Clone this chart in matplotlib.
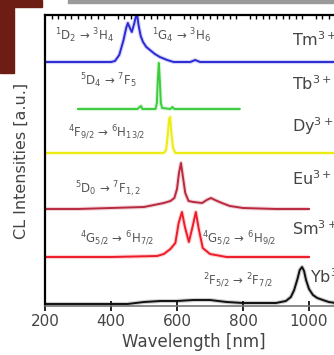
"""Stacked cathodoluminescence spectra of rare-earth doped samples"""
import matplotlib
matplotlib.use('Agg')
import matplotlib.pyplot as plt
from matplotlib.patches import Rectangle
from matplotlib.ticker import MultipleLocator

# Spectra: wavelength [nm] and intensity [a.u.] above each trace's baseline
tm_wl = [200, 400, 412, 425, 438, 446, 451, 456, 463, 470, 475, 479, 484, 490,
         497, 507, 518, 533, 548, 570, 590, 640, 655, 670, 700, 1100]
tm_int = [0, 0, 1, 7, 22, 34, 39, 35, 30, 38, 45, 47, 36, 26,
          20, 15, 12, 8, 5, 2, 0, 0, 2, 0, 0, 0]

tb_wl = [300, 480, 487, 491, 495, 535, 539, 542, 545, 548, 551, 555, 580, 586, 592, 620, 790]
tb_int = [0, 0, 2, 3, 0, 0, 6, 30, 46, 28, 6, 1, 0, 2, 0, 0, 0]

dy_wl = [200, 500, 560, 567, 572, 576, 579, 583, 588, 595, 1100]
dy_int = [0, 0, 0, 3, 18, 34, 36, 20, 5, 0, 0]

eu_wl = [200, 300, 400, 500, 560, 580, 592, 600, 606, 612, 618, 625, 635, 650,
         676, 690, 703, 715, 736, 760, 800, 900, 1000]
eu_int = [0, 0, 1, 2, 6, 8, 11, 20, 36, 46, 32, 16, 8, 7,
          6, 9, 11, 9, 6, 3, 1, 0, 0]

sm_wl = [200, 400, 540, 560, 580, 595, 605, 615, 624, 636, 647, 657, 666, 678, 700, 750, 1000]
sm_int = [0, 0, 1, 3, 8, 14, 34, 45, 30, 15, 30, 45, 28, 9, 3, 0, 0]

yb_wl = [200, 300, 450, 500, 550, 600, 650, 700, 750, 800, 850, 900, 930, 945,
         955, 965, 972, 979, 985, 991, 1000, 1012, 1025, 1042, 1060, 1080, 1100]
yb_int = [0, 0, 0, 2, 3, 3, 4, 4, 2, 1, 1, 1, 3, 7,
          14, 25, 34, 37, 33, 24, 15, 9, 6, 4, 2, 1, 1]

ions = ['Tm$^{3+}$', 'Tb$^{3+}$', 'Dy$^{3+}$', 'Eu$^{3+}$', 'Sm$^{3+}$', 'Yb$^{3+}$']
transitions = [
    '$^1$D$_2$ → $^3$H$_4$',
    '$^1$G$_4$ → $^3$H$_6$',
    '$^5$D$_4$ → $^7$F$_5$',
    '$^4$F$_{9/2}$ → $^6$H$_{13/2}$',
    '$^5$D$_0$ → $^7$F$_{1,2}$',
    '$^4$G$_{5/2}$ → $^6$H$_{7/2}$',
    '$^4$G$_{5/2}$ → $^6$H$_{9/2}$',
    '$^2$F$_{5/2}$ → $^2$F$_{7/2}$',
]
x_ticks = [200, 400, 600, 800, 1000]

# trace: (wl, intensity, vertical offset, colour)
traces = [
    (tm_wl, tm_int, 244, '#2b2bd6'),
    (tb_wl, tb_int, 197, '#3ccc3c'),
    (dy_wl, dy_int, 153, '#ecec10'),
    (eu_wl, eu_int, 97, '#b92a40'),
    (sm_wl, sm_int, 49, '#ee1c28'),
    (yb_wl, yb_int, 2, '#111111'),
]

W, H = 334, 355
fig = plt.figure(figsize=(W / 100, H / 100), dpi=100)

# decorations around the cropped figure
fig.patches.append(Rectangle((0, 1 - 7 / H), 42 / W, 7 / H, transform=fig.transFigure,
                             color='#6e1d14', zorder=0))
fig.patches.append(Rectangle((0, 1 - 73 / H), 14 / W, 66 / H, transform=fig.transFigure,
                             color='#6e1d14', zorder=0))
fig.patches.append(Rectangle((68 / W, 1 - 3 / H), 1 - 68 / W, 3 / H, transform=fig.transFigure,
                             color='#9a9a9a', zorder=0))

ax = fig.add_axes([45 / W, 49 / H, 297 / W, 291 / H])
ax.set_xlim(200, 1100)
ax.set_ylim(0, 291)

for wl, inten, off, col in traces:
    y = [v + off for v in inten]
    ax.plot(wl, y, color=col, lw=3.0, alpha=0.2, solid_capstyle='butt')
    ax.plot(wl, y, color=col, lw=1.4)

# ion names on the right (baseline anchored)
ion_pos = [(948, 260), (948, 216), (948, 174), (948, 121), (948, 71), (1003, 23)]
for name, (x, y) in zip(ions, ion_pos):
    ax.text(x, y, name, fontsize=11.5, color='#444444', va='baseline', ha='left')

trans_pos = [(230, 266), (524, 266), (306, 221), (270, 169), (291, 113),
             (306, 63), (676, 63), (679, 21)]
for label, (x, y) in zip(transitions, trans_pos):
    ax.text(x, y, label, fontsize=8.5, color='#555555', va='baseline', ha='left')

ax.set_xticks(x_ticks)
ax.xaxis.set_minor_locator(MultipleLocator(20))
ax.tick_params(axis='x', which='major', direction='inout', length=7, width=1.2,
               labelsize=11, labelcolor='#444444', pad=2, top=False)
ax.tick_params(axis='x', which='minor', bottom=False, top=True, direction='in',
               length=3, width=1)
ax.set_yticks([])
ax.spines['left'].set_linewidth(1.6)
ax.spines['top'].set_linewidth(1.6)
ax.spines['bottom'].set_linewidth(1.2)
ax.spines['bottom'].set_color('#777777')
ax.spines['right'].set_visible(False)

ax.set_xlabel('Wavelength [nm]', fontsize=12, color='#444444', labelpad=3)
ax.set_ylabel('CL Intensities [a.u.]', fontsize=11.5, color='#444444', labelpad=12)

fig.savefig('out.png', dpi=100)
